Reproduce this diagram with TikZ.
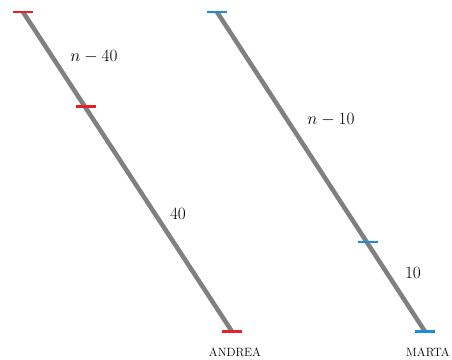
\documentclass[tikz,border=0pt]{standalone}
\usepackage{fontspec}
\definecolor{seg}{HTML}{808080}
\definecolor{tickred}{HTML}{E5202A}
\definecolor{tickblue}{HTML}{1B8FD6}
\begin{document}
\begin{tikzpicture}[x=1pt,y=-1pt,
  segline/.style={seg,line width=4.5pt},
  rtick/.style={tickred,line width=2.2pt},
  btick/.style={tickblue,line width=2.2pt},
  lab/.style={font=\fontsize{17}{20}\selectfont,inner sep=0pt},
  persontext/.style={font=\fontsize{12}{14}\selectfont,inner sep=0pt}]
\useasboundingbox (0,0) rectangle (452,359);
% Andrea
\coordinate (a0) at (23,12);
\coordinate (a1) at (86,106.5);
\coordinate (a2) at (232,331.5);
\draw[segline] (a0) -- (a2);
\foreach \p in {a0,a1,a2} \draw[rtick] ([xshift=-10pt]\p) -- ([xshift=10pt]\p);
\node[lab] (la1) at (94,57) {$n-40$};
\node[lab] (la2) at (178,214) {$40$};
\node[persontext] (na) at (235,352) {ANDREA};
% Marta
\coordinate (m0) at (217,12);
\coordinate (m1) at (368,242);
\coordinate (m2) at (425,331.5);
\draw[segline] (m0) -- (m2);
\foreach \p in {m0,m1,m2} \draw[btick] ([xshift=-10pt]\p) -- ([xshift=10pt]\p);
\node[lab] (lm1) at (331,120) {$n-10$};
\node[lab] (lm2) at (413,273) {$10$};
\node[persontext] (nm) at (428,352) {MARTA};
\end{tikzpicture}
\end{document}
